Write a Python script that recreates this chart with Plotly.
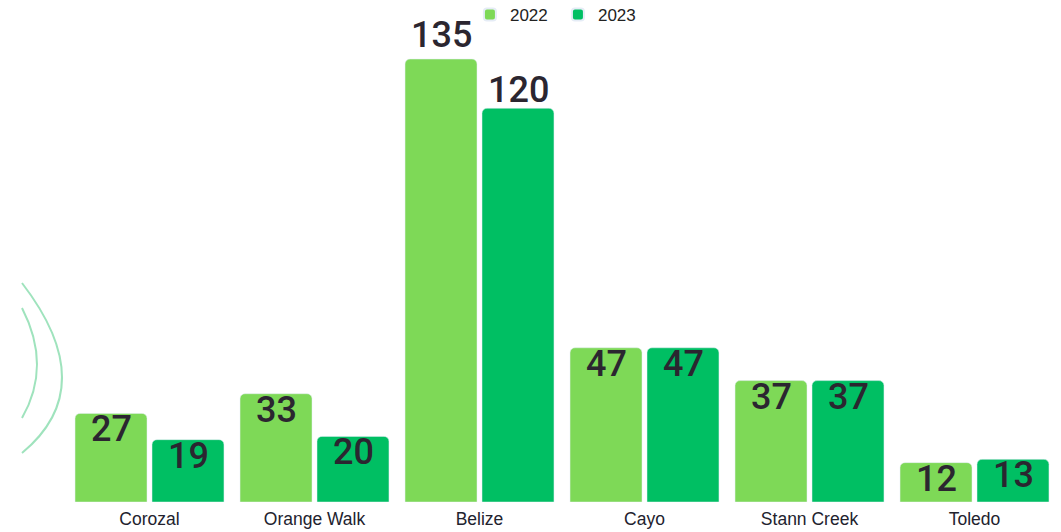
import plotly.graph_objects as go

districts = ["Corozal", "Orange Walk", "Belize", "Cayo", "Stann Creek", "Toledo"]
values_2022 = [27, 33, 135, 47, 37, 12]
values_2023 = [19, 20, 120, 47, 37, 13]
series_names = ["2022", "2023"]
colors = ["#7ED957", "#00BF63"]

W, H = 1061, 532
ML, MR, MT, MB = 67, 4, 0, 30
PW, PH = W - ML - MR, H - MT - MB
BAR_OFFSET = 38.5          # pixel offset of each bar centre from its category centre
OUTSIDE_LIFT = [1, -5]     # pixel lift of outside labels, per series

def px(x, y):
    return (x - ML) / PW, (H - MB - y) / PH

def curve(p0, c, p2):
    a, b, d = px(*p0), px(*c), px(*p2)
    return f"M {a[0]},{a[1]} Q {b[0]},{b[1]} {d[0]},{d[1]}"

label_font = dict(family="Roboto, sans-serif", size=36, color="#2b2630", weight=500)

fig = go.Figure()
annotations = []
for k, (name, vals, col) in enumerate(zip(series_names, [values_2022, values_2023], colors)):
    fig.add_trace(go.Bar(x=districts, y=vals, name=name, marker_color=col,
                         hoverinfo="x+y+name"))
    shift = (-1 if k == 0 else 1) * BAR_OFFSET
    for cat, v in zip(districts, vals):
        outside = v > 100
        annotations.append(dict(
            x=cat, y=v, xref="x", yref="y", text=str(v), showarrow=False,
            xshift=shift, yanchor="bottom" if outside else "top",
            yshift=OUTSIDE_LIFT[k] if outside else 7, font=label_font,
        ))

fig.update_layout(
    width=W, height=H,
    margin=dict(l=ML, r=MR, t=MT, b=MB, autoexpand=False),
    paper_bgcolor="white", plot_bgcolor="white",
    barmode="group", bargap=0.067, bargroupgap=0.065,
    barcornerradius=5,
    showlegend=True,
    legend=dict(orientation="h", x=0.407, xanchor="left", y=0.97, yanchor="middle",
                font=dict(family="Liberation Sans, Arial, sans-serif", size=17, color="#222"),
                entrywidth=43, entrywidthmode="pixels",
                itemwidth=30, itemsizing="constant", bgcolor="rgba(0,0,0,0)"),
    xaxis=dict(showgrid=False, showline=False, zeroline=False, ticks="", ticklabelstandoff=4,
               automargin=False,
               tickfont=dict(family="Liberation Sans, Arial, sans-serif", size=17.5, color="#22222e")),
    yaxis=dict(range=[0, 153], visible=False, showgrid=False, zeroline=False, automargin=False),
    annotations=annotations,
    shapes=[
        dict(type="path", xref="paper", yref="paper", path=curve((22, 283), (102, 387), (22, 453)),
             line=dict(color="#9fe3bd", width=2)),
        dict(type="path", xref="paper", yref="paper", path=curve((22, 308), (52, 366), (22, 418)),
             line=dict(color="#9fe3bd", width=2)),
    ],
)

fig.write_html("out.html", config={"displayModeBar": False},
               post_script="document.body.style.margin='0';")
